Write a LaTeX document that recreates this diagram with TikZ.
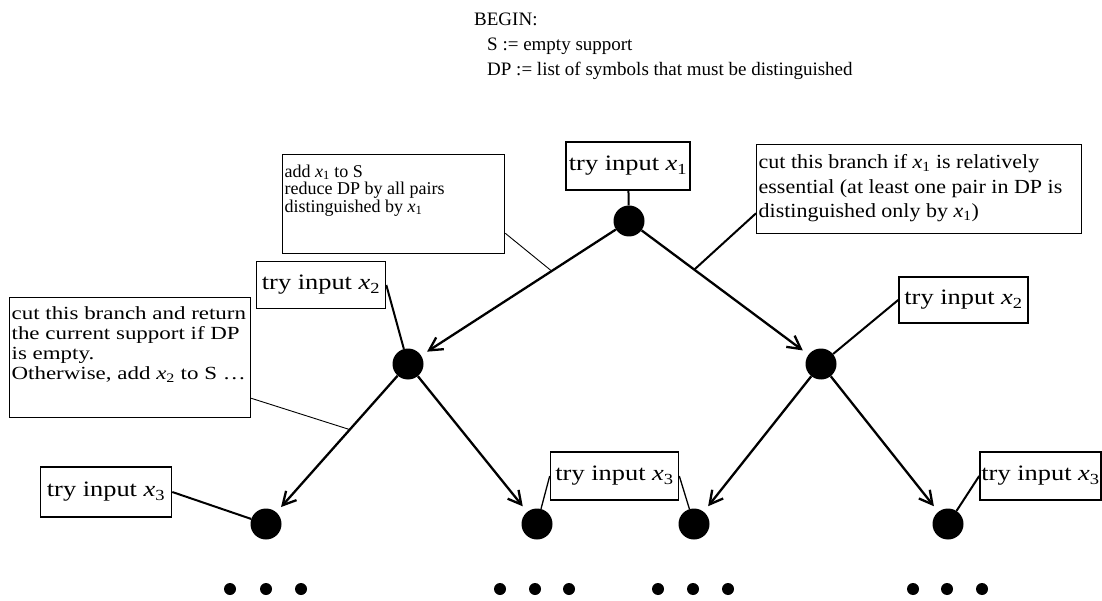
\documentclass[tikz,border=0pt]{standalone}
\usepackage{fontspec}
\setmainfont{Liberation Serif}
\newfontfamily\tryfnt[FakeStretch=1.2]{Liberation Serif}
\newfontfamily\cfnt[FakeStretch=1.24]{Liberation Serif}
\newfontfamily\bfnt[FakeStretch=1.1]{Liberation Serif}
\usetikzlibrary{arrows.meta,calc}
\newcommand{\xs}[1]{\textit{x}\textsubscript{#1}}
\begin{document}
\begin{tikzpicture}[x=1pt,y=-1pt,
  hdr/.style={inner sep=0pt, anchor=base west, font=\fontsize{19}{23}\selectfont},
  dot/.style={circle, fill=black, minimum size=31pt, inner sep=0pt},
  sdot/.style={circle, fill=black, minimum size=12pt, inner sep=0pt},
  tbox/.style={draw, line width=1.6pt, inner sep=0pt, font=\tryfnt\fontsize{22}{26}\selectfont},
  abox/.style={draw, line width=1.3pt, anchor=north west, inner xsep=2pt, inner ysep=0pt},
  arr/.style={line width=2.3pt, -{Straight Barb[length=13pt,width=14pt]}, shorten >=7pt},
  conn/.style={line width=2pt},
  lead/.style={line width=0.9pt}]
\useasboundingbox (0,0) rectangle (1102,601);
\fill[white] (0,0) rectangle (1102,601);

% header
\node[hdr] (h1) at (474,26) {BEGIN:};
\node[hdr] (h2) at (487,51) {S := empty support};
\node[hdr] (h3) at (487,76) {DP := list of symbols that must be distinguished};

% tree nodes
\node[dot] (root) at (629,221) {};
\node[dot] (m1) at (408,364) {};
\node[dot] (m2) at (821,364) {};
\node[dot] (a) at (266,524) {};
\node[dot] (b) at (537,524) {};
\node[dot] (c) at (694,524) {};
\node[dot] (d) at (948,524) {};

% arrows
\draw[arr] (root) -- (m1);
\draw[arr] (root) -- (m2);
\draw[arr] (m1) -- (a);
\draw[arr] (m1) -- (b);
\draw[arr] (m2) -- (c);
\draw[arr] (m2) -- (d);

% try input boxes
\node[tbox, minimum width=124pt, minimum height=48pt] (br) at (628,166) {try input \xs{1}};
\node[tbox, minimum width=129pt, minimum height=47pt] (bl2) at (321,285) {try input \xs{2}};
\node[tbox, minimum width=129pt, minimum height=46pt] (br2) at (963.5,300) {try input \xs{2}};
\node[tbox, minimum width=131pt, minimum height=50pt] (bl3) at (106,492) {try input \xs{3}};
\node[tbox, minimum width=128pt, minimum height=48pt] (bm3) at (614.5,476) {try input \xs{3}};
\node[tbox, minimum width=121pt, minimum height=48pt] (bd3) at (1040.5,476) {try input \xs{3}};

\draw[conn] (br) -- (root);
\draw[conn] (bl2.east) -- (m1);
\draw[conn] (br2.west) -- (m2);
\draw[conn] (bl3.east) -- (a);
\draw[conn,line width=1.3pt] (bm3.west) -- (b);
\draw[conn,line width=1.3pt] (bm3.east) -- (c);
\draw[conn] (bd3.west) -- (d);

% annotation boxes
\node[abox] (A) at (282,154) {\parbox[t][99pt][t]{218pt}{\raggedright\fontsize{18}{17.5}\selectfont\vspace*{10pt}add \xs{1} to S\\ reduce DP by all pairs\\ distinguished by \xs{1}}};
\node[abox] (B) at (756,144) {\parbox[t][89pt][t]{321pt}{\raggedright\bfnt\fontsize{20}{24.5}\selectfont\vspace*{10pt}cut this branch if \xs{1} is relatively\\ essential (at least one pair in DP is\\ distinguished only by \xs{1})}};
\node[abox] (C) at (9,297) {\parbox[t][120pt][t]{237pt}{\raggedright\cfnt\fontsize{18.5}{20}\selectfont\vspace*{9pt}cut this branch and return\\ the current support if DP\\ is empty.\\ Otherwise, add \xs{2} to S \ldots}};

\coordinate (pA) at ($(root)!0.35!(m1)$);
\coordinate (pB) at ($(root)!0.34!(m2)$);
\coordinate (pC) at ($(m1)!0.41!(a)$);
\draw[lead] ($(A.south east)+(0,-21)$) -- (pA);
\draw[conn] ($(B.south west)+(0,-21)$) -- (pB);
\draw[lead] ($(C.south east)+(0,-20)$) -- (pC);

% continuation dots
\foreach \n/\x in {a1/230,a2/266,a3/301,b1/500,b2/535,b3/569,c1/658,c2/693,c3/728,d1/913,d2/947,d3/982}
  \node[sdot] (s\n) at (\x,589) {};
\end{tikzpicture}
\end{document}
